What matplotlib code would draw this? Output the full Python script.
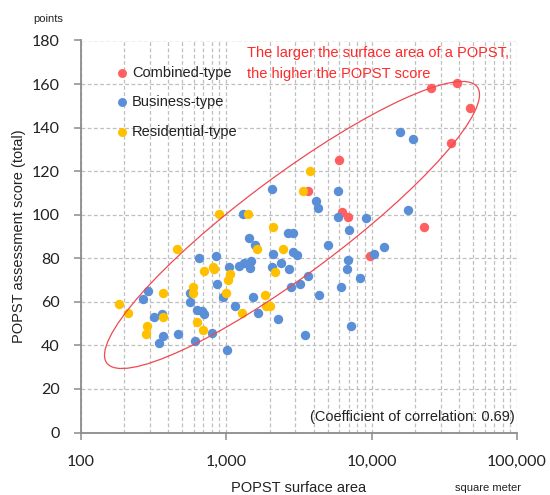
import numpy as np
import matplotlib
matplotlib.use("Agg")
import matplotlib.pyplot as plt
from matplotlib.patches import Ellipse
from matplotlib.transforms import IdentityTransform
from matplotlib.ticker import FixedLocator, FuncFormatter, NullFormatter

plt.rcParams["font.family"] = ["Liberation Sans", "DejaVu Sans"]

# POPST surface area (m2) and assessment score
combined_area = [25650, 38530, 47530, 35170, 5980, 3680, 6300, 6930, 23070, 9770]
combined_score = [158.0, 160.6, 148.9, 133.1, 125.1, 110.9, 101.1, 99.1, 94.2, 81.2]

business_area = [15700, 19370, 2060, 1315, 5860, 4155, 4270, 5860, 9125, 17900,
                 7040, 2655, 2870, 1446, 1583, 5020, 655, 853, 1054, 1234,
                 1329, 1478, 1462, 2115, 2900, 3090, 2060, 2390, 2720, 6930,
                 6820, 10450, 12190, 8340, 3640, 2800, 3230, 4360, 6170, 2290,
                 7200, 3490, 291, 269, 566, 566, 863, 958, 1545, 1153,
                 1660, 320, 361, 630, 680, 706, 371, 348, 470, 617,
                 797, 1011]
business_score = [138.1, 134.8, 111.7, 100.2, 111.0, 106.3, 103.3, 99.1, 98.3, 102.2,
                  93.0, 91.8, 91.8, 89.2, 86.1, 86.1, 80.0, 81.2, 75.9, 76.4,
                  78.0, 78.9, 75.4, 82.0, 83.0, 81.5, 76.2, 77.7, 75.2, 79.2,
                  75.2, 82.0, 85.0, 70.8, 72.0, 66.9, 68.0, 63.1, 66.9, 52.0,
                  49.0, 44.8, 65.2, 61.2, 63.9, 60.1, 68.2, 62.1, 62.1, 58.1,
                  54.9, 53.2, 54.2, 56.2, 55.8, 54.4, 44.1, 41.2, 45.2, 42.2,
                  45.9, 37.9]

residential_area = [3780, 3370, 899, 1410, 2115, 458, 1626, 2477, 706, 810,
                    831, 1071, 1037, 2172, 596, 591, 367, 184, 212, 367,
                    1005, 1854, 1884, 2005, 1282, 285, 281, 629, 698]
residential_score = [119.9, 110.9, 100.2, 100.2, 94.2, 84.1, 84.1, 84.1, 74.3, 75.9,
                     74.9, 72.7, 70.0, 73.8, 67.0, 63.9, 63.9, 59.1, 55.0, 53.2,
                     63.9, 63.1, 58.3, 58.3, 55.1, 49.0, 45.1, 50.9, 47.1]

x_ticks = [100, 1000, 10000, 100000]
y_ticks = [0, 20, 40, 60, 80, 100, 120, 140, 160, 180]

RED = "#FF5F5F"
BLUE = "#5A8FD7"
YELLOW = "#FFC000"
GRID = "#BFBFBF"
SPINE = "#8C8C8C"

fig = plt.figure(figsize=(5.5, 4.95), dpi=100)
ax = fig.add_axes([80.5 / 550, 1 - 432.5 / 495, (517 - 80.5) / 550, (432.5 - 40.5) / 495])

ax.set_xscale("log")
ax.set_xlim(100, 100000)
ax.set_ylim(0, 180)

ax.xaxis.set_major_locator(FixedLocator(x_ticks))
ax.xaxis.set_minor_locator(FixedLocator([m * d for d in [100, 1000, 10000] for m in range(2, 10)]))
ax.xaxis.set_major_formatter(FuncFormatter(lambda v, pos: "{:,.0f}".format(v)))
ax.xaxis.set_minor_formatter(NullFormatter())
ax.yaxis.set_major_locator(FixedLocator(y_ticks))

ax.grid(True, which="both", axis="x", color=GRID, linestyle=(0, (3, 2)), linewidth=0.9)
ax.grid(True, which="major", axis="y", color=GRID, linestyle=(0, (3, 2)), linewidth=0.9)
ax.set_axisbelow(True)

for side in ["top", "right"]:
    ax.spines[side].set_visible(False)
for side in ["left", "bottom"]:
    ax.spines[side].set_color(SPINE)
    ax.spines[side].set_linewidth(1.3)
# dashed frame at the top edge
ax.axhline(180, color=GRID, linestyle=(0, (3, 2)), linewidth=0.9, zorder=0)

ax.tick_params(axis="both", which="major", direction="out", length=5, color=SPINE, width=1.1)
ax.tick_params(axis="x", which="minor", length=0)
ax.tick_params(axis="y", pad=10)
ax.tick_params(axis="x", pad=11)
for lab in ax.get_xticklabels() + ax.get_yticklabels():
    lab.set_fontfamily(["Lato", "DejaVu Sans"])
    lab.set_fontsize(11.5)
    lab.set_color("#222222")

MS = 46
ax.scatter(combined_area, combined_score, s=MS, color=RED, lw=0, zorder=3, label="Combined-type")
ax.scatter(business_area, business_score, s=MS, color=BLUE, lw=0, zorder=3, label="Business-type")
ax.scatter(residential_area, residential_score, s=MS, color=YELLOW, lw=0, zorder=3, label="Residential-type")

leg = ax.legend(loc="upper left", bbox_to_anchor=(0.055, 0.95), frameon=False,
                fontsize=10.5, handletextpad=-0.1, labelspacing=1.05, markerscale=0.95,
                borderaxespad=0, handlelength=1.6)
for t in leg.get_texts():
    t.set_color("#222222")

fig.text(247 / 550, 1 - 46 / 495,
         "The larger the surface area of a POPST,\nthe higher the POPST score",
         color="#FF2A2A", fontsize=10.5, ha="left", va="top", linespacing=1.6)

ax.text(0.995, 0.04, "(Coefficient of correlation: 0.69)", transform=ax.transAxes,
        fontsize=10.5, ha="right", va="center", color="#222222")

ax.set_ylabel("POPST assessment score (total)", fontsize=10.5, color="#222222", labelpad=4)
ax.set_xlabel("POPST surface area", fontsize=10.5, color="#222222", labelpad=9)
fig.text(48 / 550, 1 - 19 / 495, "points", fontsize=8, ha="center", va="center", color="#222222")
fig.text(521 / 550, 1 - 488 / 495, "square meter", fontsize=8, ha="right", va="center", color="#222222")

# ellipse drawn in pixel space, centred on a data point
cx, cy = ax.transData.transform((2842, 95.3))
ell = Ellipse((cx, cy), width=462, height=98, angle=36.7, transform=IdentityTransform(),
              fill=False, edgecolor="#EE4A52", linewidth=0.9, zorder=4)
ax.add_artist(ell)

fig.savefig("out.png", dpi=100)
